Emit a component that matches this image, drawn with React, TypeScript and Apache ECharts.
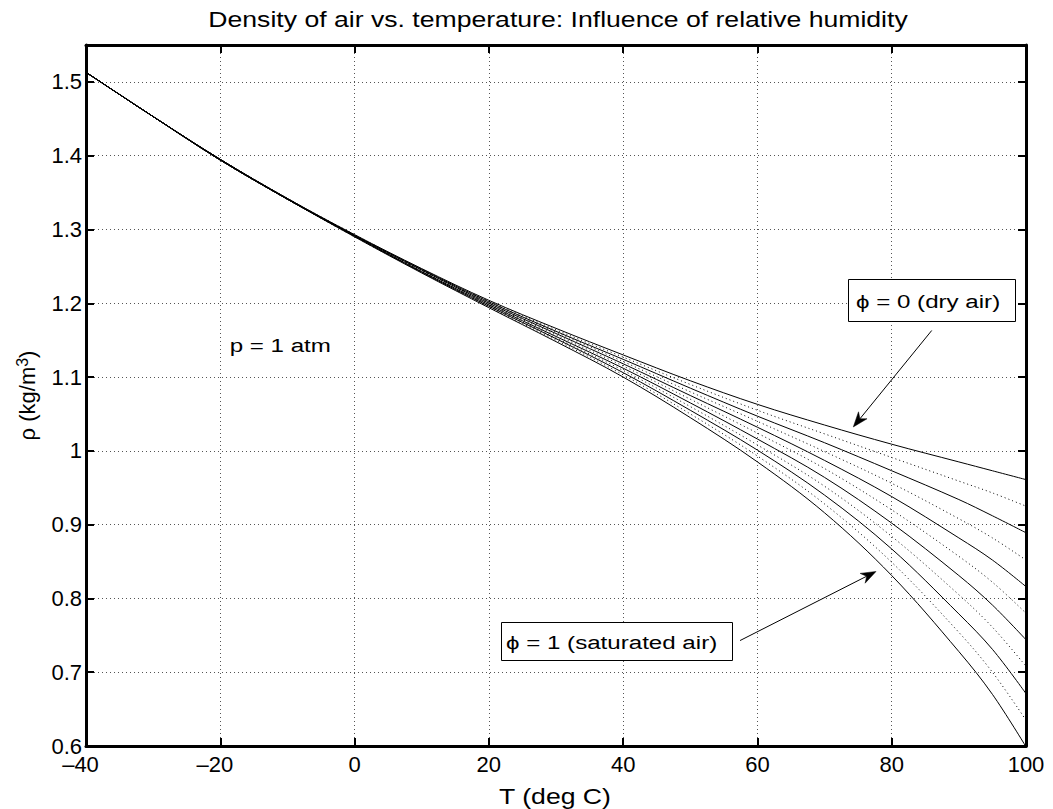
import React, { useEffect, useRef } from 'react';
import * as echarts from 'echarts';

// ---- data ----
const TITLE = 'Density of air vs. temperature: Influence of relative humidity';
const X_NAME = 'T (deg C)';
const Y_NAME = 'ρ (kg/m{sup|3})';

// temperatures (deg C)
const TEMPS = [-40, -30, -20, -10, 0, 10, 20, 30, 40, 50, 60, 70, 80, 90, 95, 100];

// relative humidity of each curve
const PHI = ['0', '0.1', '0.2', '0.3', '0.4', '0.5', '0.6', '0.7', '0.8', '0.9', '1'];

// density (kg/m^3) for each relative humidity
const RHO_PHI_00 = [1.513, 1.453, 1.395, 1.342, 1.293, 1.247, 1.204, 1.166, 1.130, 1.095, 1.063, 1.035, 1.009, 0.985, 0.973, 0.961];
const RHO_PHI_01 = [1.513, 1.453, 1.395, 1.342, 1.293, 1.246, 1.203, 1.164, 1.127, 1.090, 1.055, 1.023, 0.991, 0.959, 0.943, 0.925];
const RHO_PHI_02 = [1.513, 1.453, 1.395, 1.342, 1.292, 1.246, 1.202, 1.162, 1.124, 1.085, 1.047, 1.011, 0.973, 0.934, 0.912, 0.889];
const RHO_PHI_03 = [1.513, 1.453, 1.395, 1.342, 1.292, 1.245, 1.201, 1.161, 1.121, 1.080, 1.040, 0.999, 0.956, 0.908, 0.882, 0.852];
const RHO_PHI_04 = [1.513, 1.453, 1.395, 1.341, 1.292, 1.245, 1.200, 1.159, 1.118, 1.075, 1.032, 0.987, 0.938, 0.882, 0.852, 0.816];
const RHO_PHI_05 = [1.513, 1.453, 1.395, 1.341, 1.292, 1.244, 1.199, 1.157, 1.115, 1.070, 1.024, 0.976, 0.920, 0.857, 0.822, 0.780];
const RHO_PHI_06 = [1.513, 1.453, 1.394, 1.341, 1.291, 1.243, 1.198, 1.155, 1.112, 1.065, 1.016, 0.964, 0.902, 0.831, 0.791, 0.744];
const RHO_PHI_07 = [1.513, 1.453, 1.394, 1.341, 1.291, 1.243, 1.197, 1.153, 1.109, 1.060, 1.008, 0.952, 0.884, 0.805, 0.761, 0.708];
const RHO_PHI_08 = [1.513, 1.453, 1.394, 1.341, 1.291, 1.242, 1.196, 1.152, 1.106, 1.055, 1.001, 0.940, 0.867, 0.779, 0.731, 0.671];
const RHO_PHI_09 = [1.513, 1.453, 1.394, 1.341, 1.290, 1.242, 1.195, 1.150, 1.103, 1.050, 0.993, 0.928, 0.849, 0.754, 0.700, 0.635];
const RHO_PHI_10 = [1.513, 1.453, 1.394, 1.341, 1.290, 1.241, 1.194, 1.148, 1.100, 1.045, 0.985, 0.916, 0.831, 0.728, 0.670, 0.599];

const CURVES = [RHO_PHI_00, RHO_PHI_01, RHO_PHI_02, RHO_PHI_03, RHO_PHI_04, RHO_PHI_05,
  RHO_PHI_06, RHO_PHI_07, RHO_PHI_08, RHO_PHI_09, RHO_PHI_10];

// axis ranges
const X_MIN = -40, X_MAX = 100, X_STEP = 20;
const Y_MIN = 0.6, Y_MAX = 1.55, Y_STEP = 0.1;

// annotations (data coordinates)
const NOTE_P = 'p = 1 atm';
const NOTE_DRY = 'ϕ = 0 (dry air)';
const NOTE_SAT = 'ϕ = 1 (saturated air)';
const NOTE_P_AT = [-18.6, 1.143];
const DRY_ARROW_FROM = [85.96, 1.1631];
const DRY_ARROW_TO = [74.28, 1.0324];
const SAT_ARROW_FROM = [57.41, 0.7429];
const SAT_ARROW_TO = [77.66, 0.8365];

const FONT = '"Liberation Sans", Arial, Helvetica, "DejaVu Sans", sans-serif';
const WIDE = 1.21; // the reference lettering is drawn a little wide
const WIDE_NOTE = 1.27;

function arrow(p0: number[], p1: number[]) {
  const dx = p1[0] - p0[0], dy = p1[1] - p0[1];
  const len = Math.sqrt(dx * dx + dy * dy);
  const ux = dx / len, uy = dy / len;
  const nx = -uy, ny = ux;
  const L = 15, W = 5.5, N = 4.5;
  const back = [p1[0] - L * ux, p1[1] - L * uy];
  const notch = [p1[0] - (L - N) * ux, p1[1] - (L - N) * uy];
  return [
    {
      type: 'line',
      shape: { x1: p0[0], y1: p0[1], x2: notch[0], y2: notch[1] },
      style: { stroke: '#000', lineWidth: 1 },
      z: 100,
    },
    {
      type: 'polygon',
      shape: {
        points: [
          [p1[0], p1[1]],
          [back[0] + W * nx, back[1] + W * ny],
          notch,
          [back[0] - W * nx, back[1] - W * ny],
        ],
      },
      style: { fill: '#000', stroke: '#000', lineWidth: 0.5 },
      z: 100,
    },
  ];
}

function label(text: string, x: number, y: number, size: number, sx: number, align = 'left') {
  return {
    type: 'text', x, y, scaleX: sx, z: 100,
    style: { text, fill: '#000', fontSize: size, fontFamily: FONT, align, verticalAlign: 'middle' },
  };
}

export default function App() {
  const ref = useRef<HTMLDivElement>(null);

  useEffect(() => {
    const chart = echarts.init(ref.current as HTMLDivElement, null, { renderer: 'svg' });

    const gridLine = { show: true, lineStyle: { color: '#555', width: 1, type: [1, 3] } };
    const axisLine = { show: true, onZero: false, lineStyle: { color: '#000', width: 3 } };
    const axisTick = { show: true, inside: true, length: 8, lineStyle: { color: '#000', width: 2 } };

    const series = CURVES.map((vals, i) => ({
      type: 'line',
      name: 'ϕ = ' + PHI[i],
      data: TEMPS.map((t, j) => [t, vals[j]]),
      showSymbol: false,
      smooth: 0.35,
      silent: true,
      lineStyle: { color: '#000', width: 1, type: i % 2 === 0 ? 'solid' : [1, 3] },
      z: i % 2 === 0 ? 4 : 3,
    }));

    chart.setOption({
      animation: false,
      backgroundColor: '#fff',
      grid: { left: 86, right: 27, top: 45, bottom: 63, containLabel: false },
      xAxis: [
        {
          type: 'value', min: X_MIN, max: X_MAX, interval: X_STEP, position: 'bottom',
          axisLine, axisTick,
          splitLine: gridLine,
          axisLabel: {
            color: '#000', fontSize: 22, fontFamily: FONT, margin: 7,
            formatter: (v: number) => (v < 0 ? '\u2013' + Math.abs(v) + '\u2002' : String(v)),
          },
        },
        {
          type: 'value', min: X_MIN, max: X_MAX, interval: X_STEP, position: 'top',
          axisLine, axisTick, axisLabel: { show: false }, splitLine: { show: false },
        },
      ],
      yAxis: [
        {
          type: 'value', min: Y_MIN, max: Y_MAX, interval: Y_STEP, position: 'left',
          axisLine, axisTick,
          splitLine: gridLine,
          axisLabel: {
            color: '#000', fontSize: 22, fontFamily: FONT, margin: 4,
            formatter: (v: number) => {
              const r = Math.round(v * 10) / 10;
              return Math.abs(v - r) < 1e-6 ? String(r) : '';
            },
          },
          name: Y_NAME, nameLocation: 'middle', nameRotate: 90, nameGap: 44,
          nameTextStyle: {
            color: '#000', fontSize: 22, fontFamily: FONT, lineHeight: 26,
            rich: { sup: { fontSize: 16, fontFamily: FONT, color: '#000', verticalAlign: 'top', lineHeight: 14 } },
          },
        },
        {
          type: 'value', min: Y_MIN, max: Y_MAX, interval: Y_STEP, position: 'right',
          axisLine, axisTick, axisLabel: { show: false }, splitLine: { show: false },
        },
      ],
      series,
    });

    const px = (p: number[]) => chart.convertToPixel({ xAxisIndex: 0, yAxisIndex: 0 }, p) as number[];
    const pP = px(NOTE_P_AT);

    const graphic: any[] = [
      label(TITLE, 558, 19, 22, WIDE, 'center'),
      label(X_NAME, 555, 796, 22, WIDE, 'center'),
      label(NOTE_P, pP[0], pP[1], 19, WIDE_NOTE),
      {
        type: 'rect', shape: { x: 848.5, y: 279.5, width: 167, height: 42 }, z: 90,
        style: { fill: '#fff', stroke: '#000', lineWidth: 1 },
      },
      label(NOTE_DRY, 856, 301, 19, WIDE_NOTE),
      {
        type: 'rect', shape: { x: 501.5, y: 622.5, width: 231, height: 38 }, z: 90,
        style: { fill: '#fff', stroke: '#000', lineWidth: 1 },
      },
      label(NOTE_SAT, 506, 642, 19, WIDE_NOTE),
      ...arrow(px(DRY_ARROW_FROM), px(DRY_ARROW_TO)),
      ...arrow(px(SAT_ARROW_FROM), px(SAT_ARROW_TO)),
    ];
    chart.setOption({ graphic });

    return () => chart.dispose();
  }, []);

  return (
    <div
      ref={ref}
      style={{ position: 'fixed', left: 0, top: 0, width: 1053, height: 809, background: '#fff' }}
    />
  );
}
